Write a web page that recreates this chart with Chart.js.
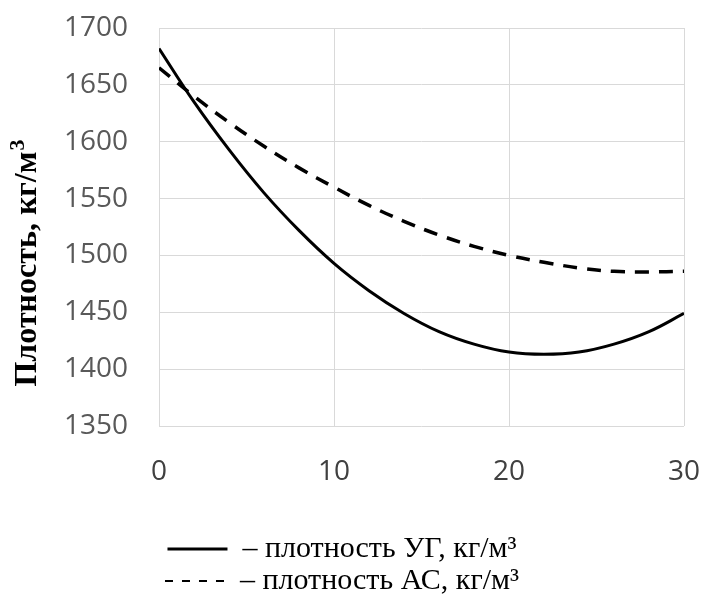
<!DOCTYPE html>
<html>
<head>
<meta charset="utf-8">
<script src="https://cdn.jsdelivr.net/npm/chart.js@4/dist/chart.umd.min.js"></script>
<style>
    body { margin: 0; background: #fff; overflow: hidden; }
    #densityChart { display: block; }
</style>
</head>
<body>
<canvas id="densityChart" width="708" height="601"></canvas>
<script>
// Data
const xValues = [0, 2, 4, 6, 8, 10, 12, 14, 16, 18, 20, 22, 24, 26, 28, 30];
const densityUG = [1682, 1635, 1593, 1555, 1522, 1493, 1469, 1449, 1433, 1422, 1415, 1413, 1415, 1422, 1433, 1449];
const densityAS = [1665, 1640, 1617, 1596, 1577, 1560, 1544, 1530, 1518, 1508, 1500, 1494, 1489, 1486, 1485.5, 1486];
const seriesLabels = ["– плотность УГ, кг/м³", "– плотность АС, кг/м³"];
const yTitle = "Плотность, кг/м";
const yTitleSup = "3";

// Draw the rotated y title with a superscript
const yTitlePlugin = {
    id: "yTitle",
    afterDraw(chart) {
        const ctx = chart.ctx;
        ctx.save();
        ctx.fillStyle = "#000";
        ctx.font = 'bold 32px "Liberation Serif"';
        const mainWidth = ctx.measureText(yTitle).width;
        ctx.font = 'bold 22px "Liberation Serif"';
        const supWidth = ctx.measureText(yTitleSup).width;
        const total = mainWidth + supWidth + 1;
        ctx.translate(36, 263);
        ctx.rotate(-Math.PI / 2);
        ctx.textBaseline = "alphabetic";
        ctx.textAlign = "left";
        ctx.font = 'bold 32px "Liberation Serif"';
        ctx.fillText(yTitle, -total / 2, 0);
        ctx.font = 'bold 22px "Liberation Serif"';
        ctx.fillText(yTitleSup, -total / 2 + mainWidth + 1, -12);
        ctx.restore();
    }
};

const toPoints = (values) => values.map((y, i) => ({ x: xValues[i], y }));

new Chart(document.getElementById("densityChart"), {
    type: "line",
    data: {
        datasets: [
            {
                label: seriesLabels[0],
                data: toPoints(densityUG),
                borderColor: "#000",
                borderWidth: 3,
                pointRadius: 0,
                tension: 0.4,
                fill: false,
            },
            {
                label: seriesLabels[1],
                data: toPoints(densityAS),
                borderColor: "#000",
                borderWidth: 3.5,
                borderDash: [14, 10],
                pointRadius: 0,
                tension: 0.4,
                fill: false,
            },
        ],
    },
    options: {
        responsive: false,
        animation: false,
        layout: {
            padding: { top: 28, right: 24, bottom: -5, left: 0 },
        },
        scales: {
            x: {
                type: "linear",
                min: 0,
                max: 30,
                border: { display: false },
                grid: { color: "#d9d9d9", lineWidth: 1, drawTicks: false },
                ticks: {
                    stepSize: 10,
                    padding: 29,
                    color: "#404040",
                    font: { family: "Open Sans", size: 28 },
                },
                afterFit(axis) {
                    axis.height = 106;
                    axis.paddingLeft = 0;
                    axis.paddingRight = 0;
                },
            },
            y: {
                min: 1350,
                max: 1700,
                border: { display: false },
                grid: { color: "#d9d9d9", lineWidth: 1, drawTicks: false },
                ticks: {
                    stepSize: 50,
                    padding: 31,
                    color: "#595959",
                    font: { family: "Open Sans", size: 28 },
                    callback: (value) => String(value),
                },
                afterFit(axis) {
                    axis.width = 159;
                    axis.paddingTop = 0;
                    axis.paddingBottom = 0;
                },
            },
        },
        plugins: {
            tooltip: { enabled: false },
            legend: {
                position: "bottom",
                labels: {
                    usePointStyle: true,
                    pointStyleWidth: 60,
                    padding: 2,
                    color: "#000",
                    font: { family: "Liberation Serif", size: 30 },
                    generateLabels: (chart) => [
                        {
                            text: seriesLabels[0],
                            pointStyle: "line",
                            strokeStyle: "#000",
                            lineWidth: 3,
                            lineDash: [],
                            datasetIndex: 0,
                        },
                        {
                            text: seriesLabels[1],
                            pointStyle: "line",
                            strokeStyle: "#000",
                            lineWidth: 2,
                            lineDash: [8, 9],
                            datasetIndex: 1,
                        },
                    ],
                },
            },
        },
    },
    plugins: [yTitlePlugin],
});
</script>
</body>
</html>
